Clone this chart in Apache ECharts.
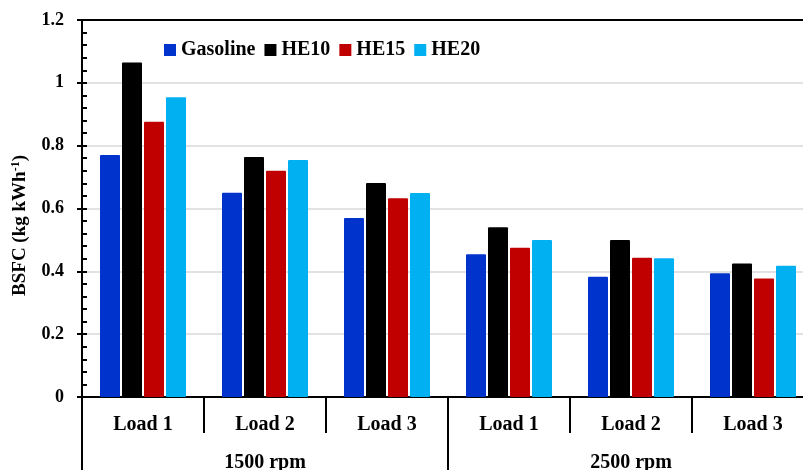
<!DOCTYPE html>
<html>
<head>
<meta charset="utf-8">
<script src="https://cdn.jsdelivr.net/npm/echarts@6/dist/echarts.min.js"></script>
<style>
  html, body { margin: 0; padding: 0; background: #fff; }
  #chart { width: 803px; height: 470px; }
</style>
</head>
<body>
<div id="chart"></div>
<script>
const loads = ["Load 1", "Load 2", "Load 3", "Load 1", "Load 2", "Load 3"];
const speeds = ["1500 rpm", "2500 rpm"];
const gasoline = [0.77, 0.65, 0.57, 0.454, 0.383, 0.394];
const he10 = [1.065, 0.764, 0.681, 0.54, 0.5, 0.425];
const he15 = [0.876, 0.72, 0.633, 0.475, 0.443, 0.377];
const he20 = [0.954, 0.754, 0.649, 0.5, 0.442, 0.418];
const yMin = 0;
const yMax = 1.2;
const yStep = 0.2;

const font = "'Liberation Serif', 'Times New Roman', serif";

const barStyle = (name, data, color) => ({
  name: name,
  type: "bar",
  data: data,
  barWidth: 20,
  barGap: "10%",
  itemStyle: { color: color, borderRadius: 1 },
});

const chart = echarts.init(document.getElementById("chart"));

chart.setOption({
  animation: false,
  grid: {
    left: 82,
    top: 20,
    width: 732,
    height: 377,
    outerBoundsMode: "none",
  },
  legend: {
    left: 164,
    top: 40,
    padding: 0,
    icon: "rect",
    itemWidth: 12,
    itemHeight: 12,
    itemGap: 9,
    textStyle: {
      fontFamily: font,
      fontWeight: "bold",
      fontSize: 20,
      color: "#000",
    },
  },
  xAxis: [
    {
      type: "category",
      data: loads,
      position: "bottom",
      axisLine: { lineStyle: { color: "#000", width: 2 } },
      axisTick: { show: true, interval: 0, length: 36, lineStyle: { color: "#000", width: 2 } },
      axisLabel: {
        margin: 18,
        fontFamily: font,
        fontWeight: "bold",
        fontSize: 20,
        color: "#000",
      },
    },
    {
      type: "category",
      data: speeds,
      position: "bottom",
      axisLine: { lineStyle: { color: "#000", width: 2 } },
      axisTick: { show: true, interval: 0, length: 73, lineStyle: { color: "#000", width: 2 } },
      axisLabel: {
        margin: 56,
        fontFamily: font,
        fontWeight: "bold",
        fontSize: 20,
        color: "#000",
      },
    },
    {
      // top border of the plot
      type: "category",
      data: loads,
      position: "top",
      axisLine: { lineStyle: { color: "#000", width: 2 } },
      axisTick: { show: false },
      axisLabel: { show: false },
    },
  ],
  yAxis: [
    {
      type: "value",
      min: yMin,
      max: yMax,
      interval: yStep,
      name: "{a|BSFC (kg kWh}{s|-1}{a|)}",
      nameLocation: "middle",
      nameRotate: 90,
      nameGap: 52,
      nameTextStyle: {
        padding: [0, 34, 0, 0],
        rich: {
          a: { fontFamily: font, fontWeight: "bold", fontSize: 19, color: "#000" },
          s: { fontFamily: font, fontWeight: "bold", fontSize: 12, color: "#000", verticalAlign: "top", padding: [0, 0, 8, 0] },
        },
      },
      axisLine: { show: true, lineStyle: { color: "#000", width: 2 } },
      axisTick: { show: true, inside: true, length: 5, lineStyle: { color: "#000", width: 2 } },
      minorTick: { show: true, splitNumber: 5, length: 5, lineStyle: { color: "#000", width: 2 } },
      splitLine: { lineStyle: { color: "#d9d9d9", width: 1.5 } },
      axisLabel: {
        margin: 18,
        fontFamily: font,
        fontWeight: "bold",
        fontSize: 18,
        color: "#000",
      },
    },
    {
      // outer half of the major ticks
      type: "value",
      min: yMin,
      max: yMax,
      interval: yStep,
      position: "left",
      offset: 0,
      axisLine: { show: false },
      axisTick: { show: true, length: 5, lineStyle: { color: "#000", width: 2 } },
      splitLine: { show: false },
      axisLabel: { show: false },
    },
  ],
  series: [
    barStyle("Gasoline", gasoline, "#0033cc"),
    barStyle("HE10", he10, "#000000"),
    barStyle("HE15", he15, "#c00000"),
    barStyle("HE20", he20, "#00b0f0"),
  ],
});
</script>
</body>
</html>
